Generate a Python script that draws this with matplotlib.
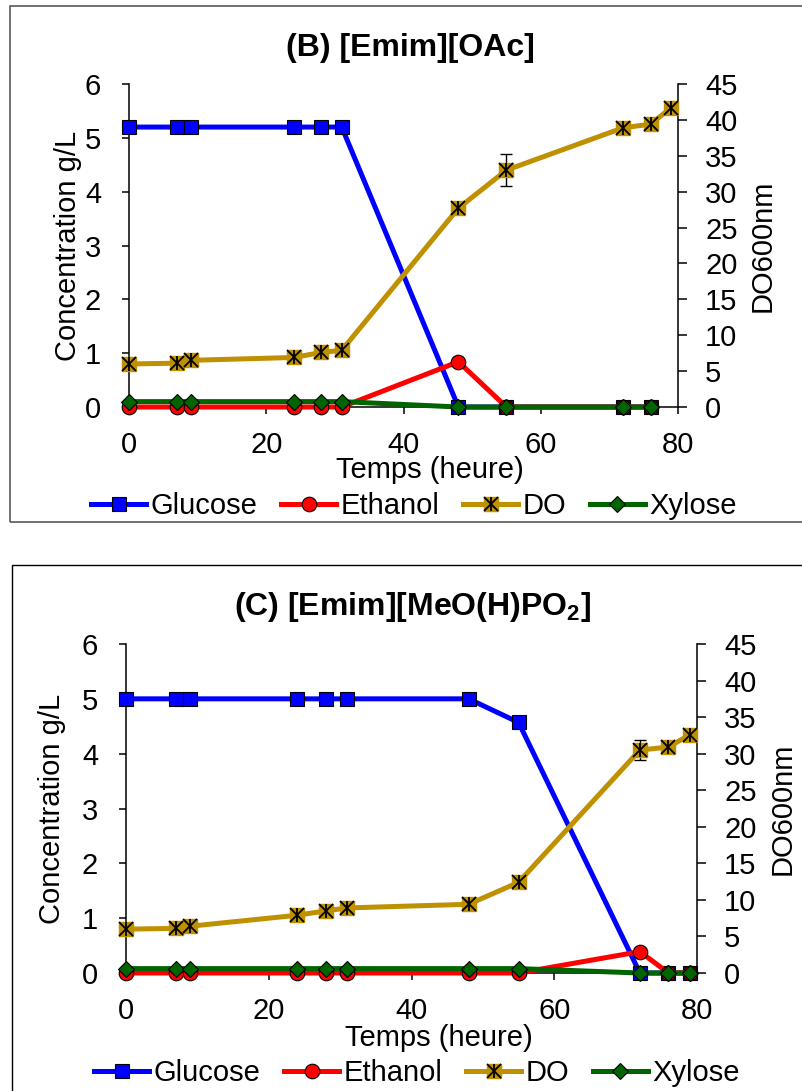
import matplotlib
matplotlib.use("Agg")
import matplotlib.pyplot as plt
from matplotlib.lines import Line2D
from matplotlib.patches import Rectangle

plt.rcParams['font.family'] = ['Liberation Sans', 'DejaVu Sans']
plt.rcParams['mathtext.fontset'] = 'custom'
plt.rcParams['mathtext.rm'] = 'Liberation Sans'
plt.rcParams['mathtext.bf'] = 'Liberation Sans:bold'

# ---- data: panel B  [Emim][OAc]
temps_b = [0, 7, 9, 24, 28, 31, 48, 55, 72, 76]
glucose_b = [5.2, 5.2, 5.2, 5.2, 5.2, 5.2, 0, 0, 0, 0]
ethanol_b = [0, 0, 0, 0, 0, 0, 0.84, 0, 0, 0]
xylose_b = [0.1, 0.1, 0.1, 0.1, 0.1, 0.1, 0, 0, 0, 0]
temps_do_b = [0, 7, 9, 24, 28, 31, 48, 55, 72, 76, 79]
do_b = [6.0, 6.1, 6.5, 6.9, 7.6, 7.9, 27.7, 33.0, 38.9, 39.4, 41.7]
do_err_b = [0, 0, 0, 0, 0, 0, 0, 2.2, 0, 0, 0]

# ---- data: panel C  [Emim][MeO(H)PO2]
temps_c = [0, 7, 9, 24, 28, 31, 48, 55, 72, 76, 79]
glucose_c = [5.0, 5.0, 5.0, 5.0, 5.0, 5.0, 5.0, 4.57, 0, 0, 0]
ethanol_c = [0, 0, 0, 0, 0, 0, 0, 0, 0.39, 0, 0]
xylose_c = [0.08, 0.08, 0.08, 0.08, 0.08, 0.08, 0.08, 0.08, 0, 0, 0]
temps_do_c = [0, 7, 9, 24, 28, 31, 48, 55, 72, 76, 79]
do_c = [6.0, 6.1, 6.4, 7.9, 8.5, 8.9, 9.4, 12.4, 30.5, 30.9, 32.6]
do_err_c = [0, 0, 0, 0, 0, 0, 0, 0, 1.4, 0.6, 0]

x_ticks = [0, 20, 40, 60, 80]
left_ticks = [0, 1, 2, 3, 4, 5, 6]
right_ticks = [0, 5, 10, 15, 20, 25, 30, 35, 40, 45]
labels = ['Glucose', 'Ethanol', 'DO', 'Xylose']

BLUE = '#0000FF'
RED = '#FF0000'
GOLD = '#BF9000'
GREEN = '#006400'
LW = 3.6
FS = 21

W, H = 802, 1091
fig = plt.figure(figsize=(W / 100, H / 100), dpi=100)


def px_box(l, r, t, b):
    return [l / W, 1 - b / H, (r - l) / W, (b - t) / H]


def panel(box, t, glu, eth, xyl, t_do, do, err, title, title_xy, ylab_x, y2lab_x, xlab_y, leg_xy):
    ax = fig.add_axes(box)
    ax2 = ax.twinx()

    ax.plot(t, glu, '-', color=BLUE, lw=LW, marker='s', ms=10, mfc=BLUE, mec='black', mew=0.8,
            zorder=3, clip_on=False)
    ax.plot(t, eth, '-', color=RED, lw=LW, marker='o', ms=10.5, mfc=RED, mec='black', mew=0.8,
            zorder=3, clip_on=False)
    ax.plot(t, xyl, '-', color=GREEN, lw=LW, marker='D', ms=8.5, mfc=GREEN, mec='black', mew=0.8,
            zorder=3, clip_on=False)

    ax2.errorbar(t_do, do, yerr=err, fmt='none', ecolor='black', elinewidth=1.0, capsize=4.5,
                 capthick=1.0, zorder=2, clip_on=False)
    ax2.plot(t_do, do, '-', color=GOLD, lw=LW, marker='s', ms=10, mfc=GOLD, mec=GOLD, zorder=3,
             clip_on=False)
    ax2.plot(t_do, do, 'none', marker='x', ms=10, mec='black', mew=1.3, zorder=4, clip_on=False)
    ax2.plot(t_do, do, 'none', marker='|', ms=10, mec='black', mew=1.3, zorder=4, clip_on=False)

    ax.set_xlim(0, 80)
    ax.set_ylim(0, 6)
    ax2.set_ylim(0, 45)
    ax.set_xticks(x_ticks)
    ax.set_yticks(left_ticks)
    ax2.set_yticks(right_ticks)

    for s in ['top', 'right']:
        ax.spines[s].set_visible(False)
    for s in ['top', 'left', 'bottom']:
        ax2.spines[s].set_visible(False)
    for sp in [ax.spines['left'], ax.spines['bottom'], ax2.spines['right']]:
        sp.set_linewidth(1.1)
        sp.set_color('black')

    ax.tick_params(axis='x', direction='out', length=5, width=1.1, labelsize=FS, pad=12)
    ax.tick_params(axis='y', direction='out', length=5, width=1.1, labelsize=FS, pad=15)
    ax2.tick_params(axis='y', direction='out', length=6.5, width=1.1, labelsize=FS, pad=13)

    ax.set_ylabel('Concentration g/L', fontsize=FS)
    ax.yaxis.set_label_coords(ylab_x, 0.5)
    ax2.set_ylabel('DO600nm', fontsize=FS)
    ax2.yaxis.set_label_coords(y2lab_x, 0.5)
    ax2.yaxis.label.set_verticalalignment('center')
    ax.yaxis.label.set_verticalalignment('center')

    ax.set_xlabel('Temps (heure)', fontsize=FS)
    ax.xaxis.label.set_verticalalignment('center')
    ax.xaxis.set_label_coords(0.548, xlab_y)

    fig.text(title_xy[0] / W, 1 - title_xy[1] / H, title, fontsize=23, fontweight='bold',
             ha='center', va='center')

    h_glu = Line2D([], [], color=BLUE, lw=LW, marker='s', ms=10, mfc=BLUE, mec='black', mew=0.8)
    h_eth = Line2D([], [], color=RED, lw=LW, marker='o', ms=10.5, mfc=RED, mec='black', mew=0.8)
    h_do = (Line2D([], [], color=GOLD, lw=LW, marker='s', ms=10, mfc=GOLD, mec=GOLD),
            Line2D([], [], ls='none', marker='x', ms=10, mec='black', mew=1.3),
            Line2D([], [], ls='none', marker='|', ms=10, mec='black', mew=1.3))
    h_xyl = Line2D([], [], color=GREEN, lw=LW, marker='D', ms=8.5, mfc=GREEN, mec='black', mew=0.8)
    fig.legend([h_glu, h_eth, h_do, h_xyl], labels, loc='center',
               bbox_to_anchor=(leg_xy[0] / W, 1 - leg_xy[1] / H), ncol=4, frameon=False,
               fontsize=FS, handlelength=1.9, handletextpad=0.15, columnspacing=0.8,
               borderpad=0, borderaxespad=0)
    return ax, ax2


# panel B
panel(px_box(129, 678, 84, 407), temps_b, glucose_b, ethanol_b, xylose_b,
      temps_do_b, do_b, do_err_b, '(B) [Emim][OAc]', (410, 48),
      (68 - 129) / 549, (763 - 129) / 549, (407 - 470) / 323, (414, 506))

# panel C
panel(px_box(126, 697, 644, 973), temps_c, glucose_c, ethanol_c, xylose_c,
      temps_do_c, do_c, do_err_c, r'(C) [Emim][MeO(H)PO$_{\mathbf{2}}$]', (412, 607),
      (52 - 126) / 571, (783 - 126) / 571, (973 - 1038) / 329, (417, 1073))

# chart-area borders
fig.add_artist(Rectangle((10 / W, 1 - 522 / H), (806 - 10) / W, (522 - 6) / H,
                         transform=fig.transFigure, fill=False, ec='#595959', lw=1.2))
fig.add_artist(Rectangle((12 / W, -0.02), (806 - 12) / W, 0.02 + (H - 565) / H,
                         transform=fig.transFigure, fill=False, ec='black', lw=1.0))

fig.savefig('out.png', dpi=100)
